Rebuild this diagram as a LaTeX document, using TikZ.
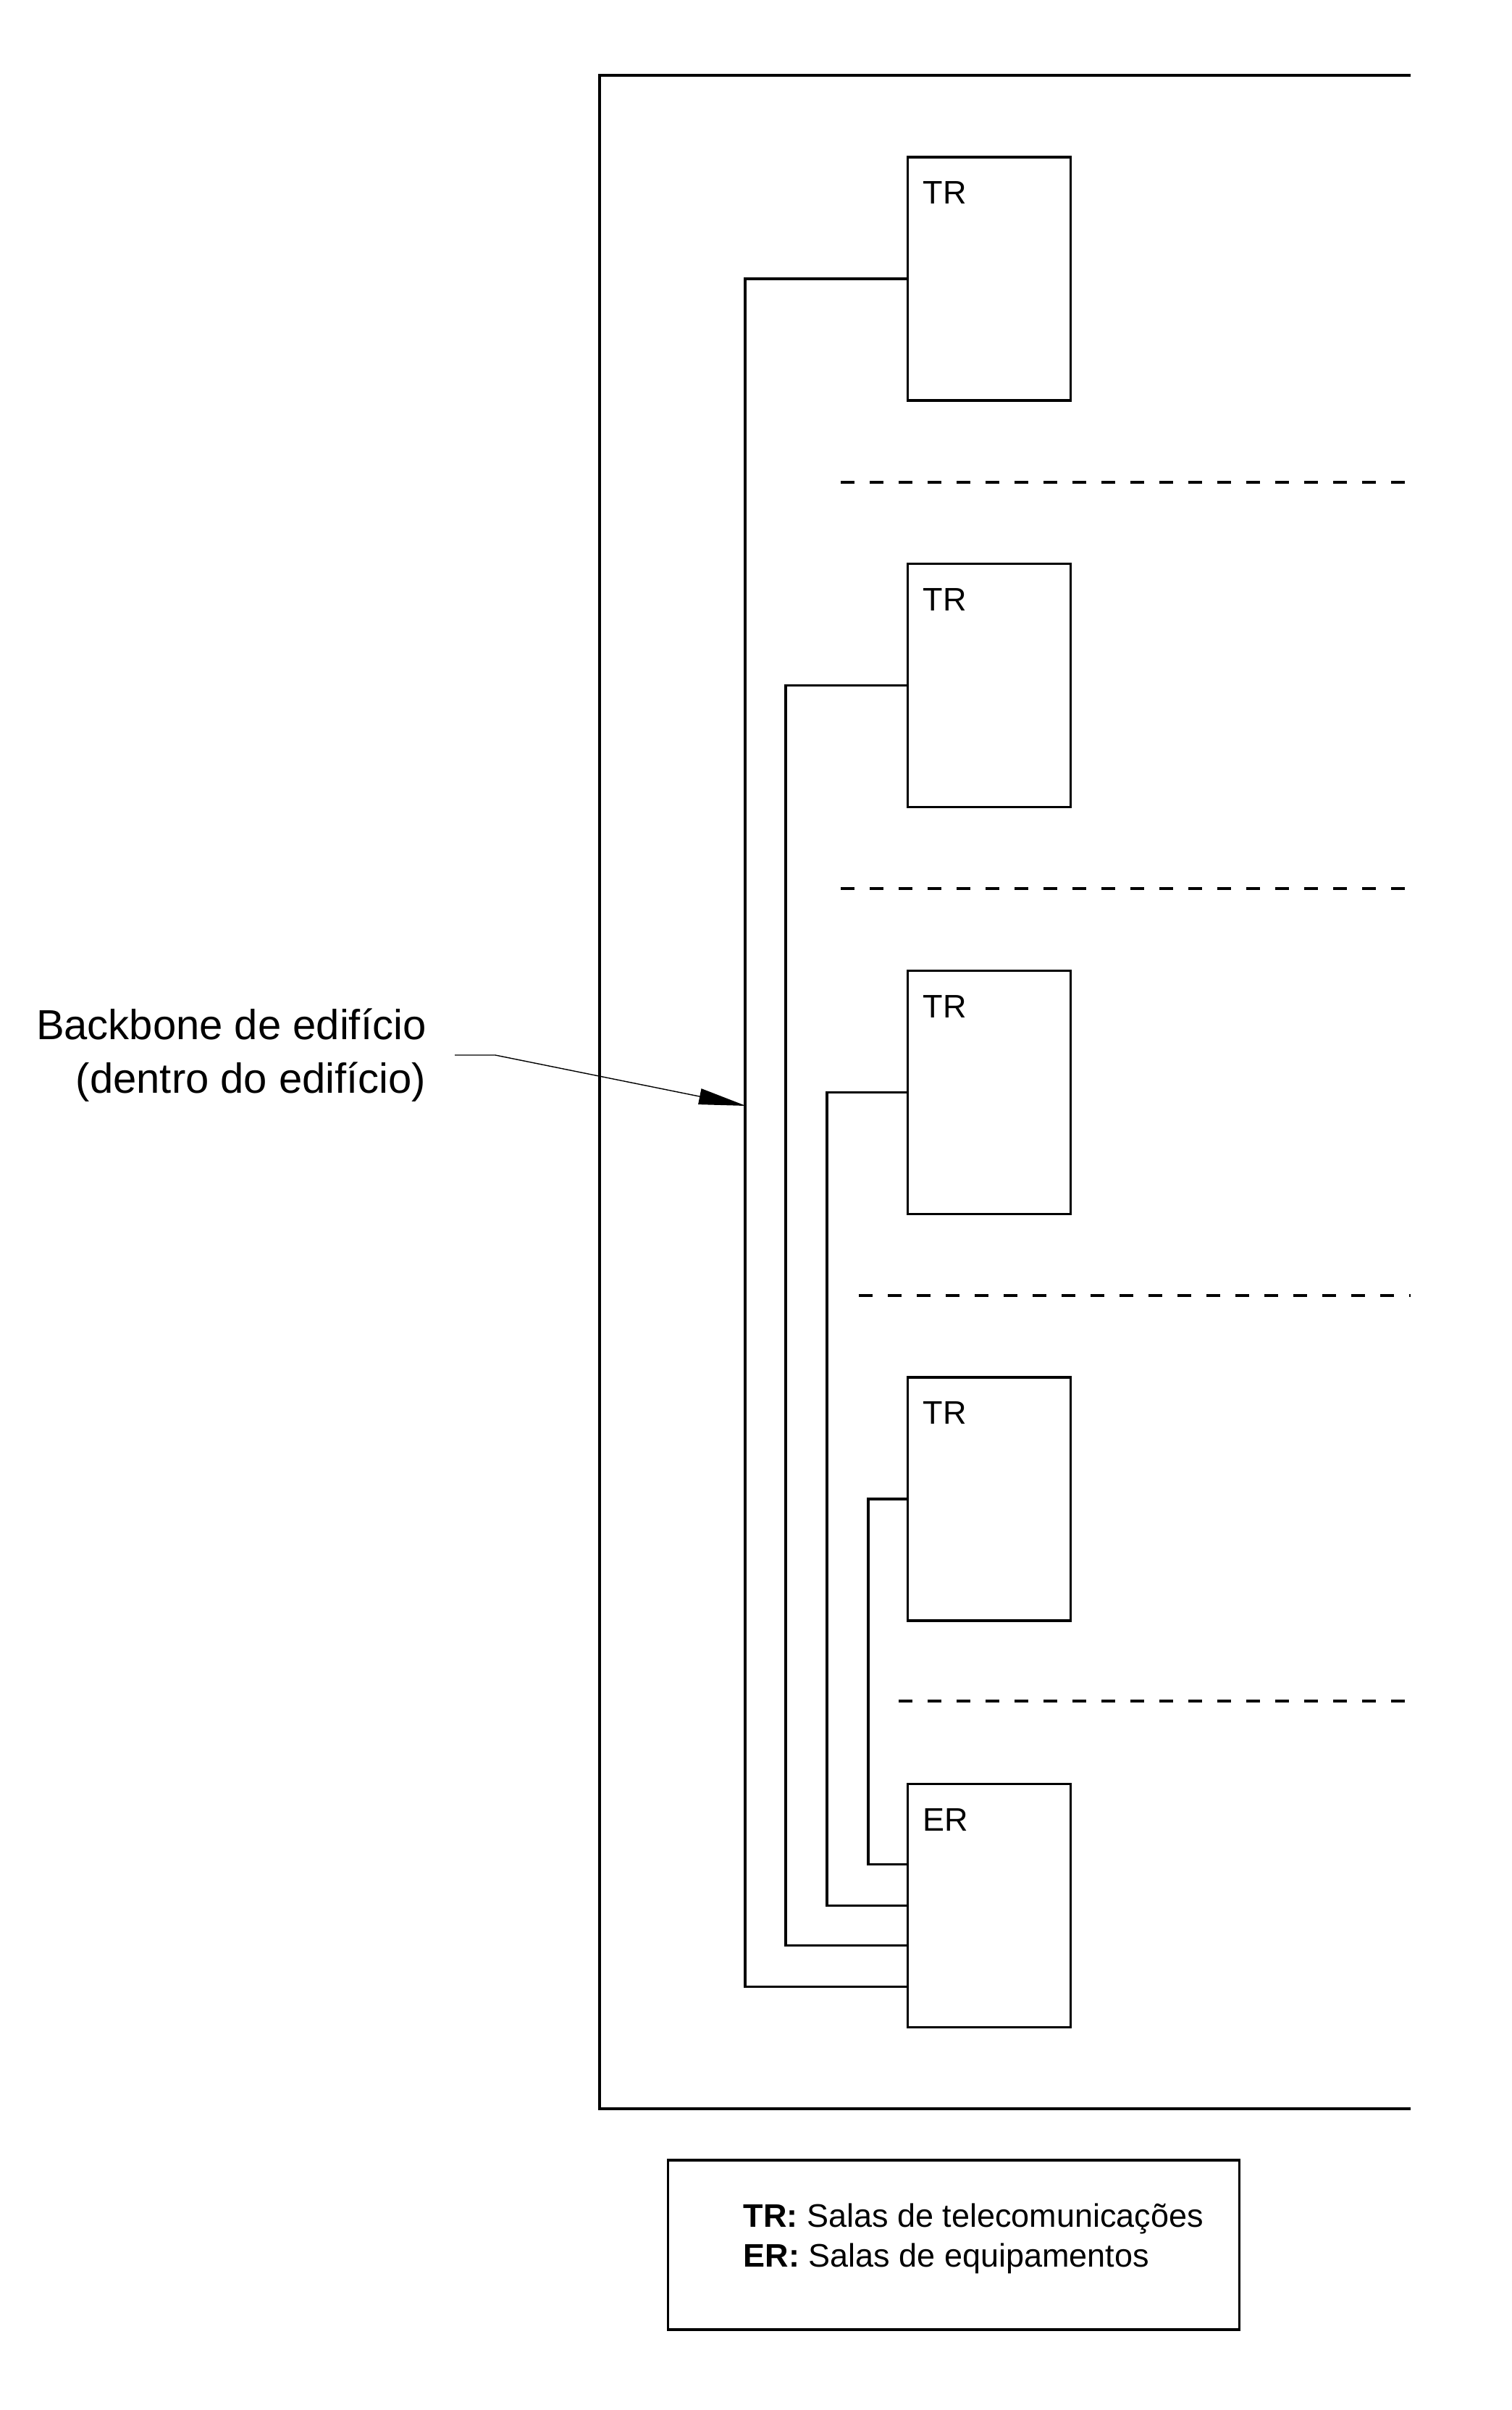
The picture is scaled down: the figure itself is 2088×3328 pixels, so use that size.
\documentclass[tikz,border=0pt]{standalone}
\usepackage{fontspec}
\setmainfont{Liberation Sans}
\usetikzlibrary{positioning,arrows.meta,calc}

\begin{document}
\begin{tikzpicture}[x=0.1mm, y=-0.1mm, line width=0.9pt,
    sala/.style={draw, rectangle, minimum width=22.5mm, minimum height=33.6mm, inner sep=0pt},
    rotulo/.style={font=\fontsize{12.8}{15.6}\selectfont, anchor=west, inner sep=0pt},
    piso/.style={dashed, dash pattern=on 1.9mm off 2.1mm, line width=1.1pt}]
    \useasboundingbox (0,0) rectangle (2088,3328);

    % contorno do edifício (aberto à direita)
    \draw (1948,104) -- (828,104) -- (828,2912) -- (1948,2912);

    % salas de telecomunicações e sala de equipamentos
    \node[sala] (tr1) at (1366,385) {};
    \node[sala, below=22.25mm of tr1] (tr2) {};
    \node[sala, below=22.25mm of tr2] (tr3) {};
    \node[sala, below=22.25mm of tr3] (tr4) {};
    \node[sala, below=22.25mm of tr4] (er) {};
    \foreach \s in {tr1,tr2,tr3,tr4}
        \node[rotulo] at ($(\s.north west)+(21,51)$) {TR};
    \node[rotulo] at ($(er.north west)+(21,51)$) {ER};

    % divisões entre pisos
    \draw[piso] (1161,666) -- (1948,666);
    \draw[piso] (1161,1227) -- (1948,1227);
    \draw[piso] (1186,1789) -- (1948,1789);
    \draw[piso] (1241,2349) -- (1948,2349);

    % cabos do backbone (TR -> ER)
    \foreach \i/\dx/\dy in {1/223/112, 2/167/55, 3/110/0, 4/53/-57}
        \draw (tr\i.west) -- ++(-\dx,0) |- ($(er.west)+(0,\dy)$);

    % rótulo do backbone
    \node[font=\fontsize{16.5}{21}\selectfont, align=right, anchor=east,
          inner xsep=3.8mm, inner ysep=0pt] (bb) at (628,1457)
        {Backbone de edifício\\(dentro do edifício)};
    \coordinate (bbtip) at (1030,1527);
    \draw[line width=0.4pt, -{Triangle[length=6.5mm, width=2.2mm]}]
        (bb.east) -- ++(56,0) -- (bbtip);

    % legenda
    \node[draw, minimum width=78.9mm, minimum height=23.4mm] (legenda) at (1317,3100) {};
    \node[rotulo, align=left] (legtxt) at (1025,3091)
        {\textbf{TR:} Salas de telecomunicações\\\textbf{ER:} Salas de equipamentos};
\end{tikzpicture}
\end{document}
